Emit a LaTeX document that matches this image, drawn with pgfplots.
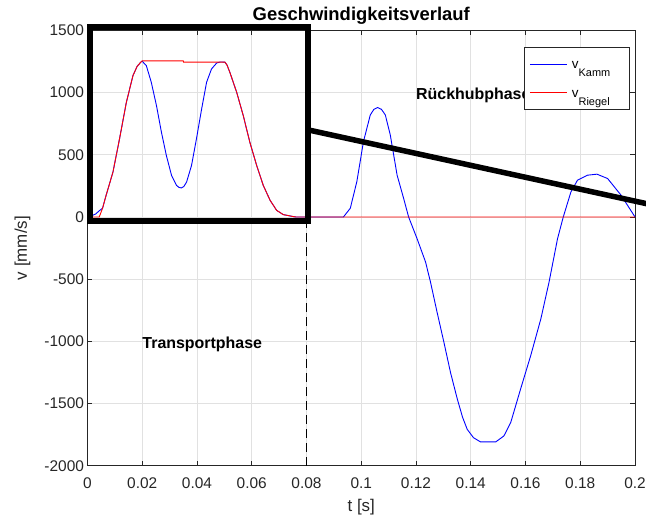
\documentclass[border=0pt]{standalone}
\usepackage{fontspec}
\setmainfont{Liberation Sans}
\usepackage{pgfplots}
\pgfplotsset{compat=1.18}
\definecolor{axgray}{HTML}{262626}
\definecolor{gridgray}{HTML}{E1E1E1}
\newcommand{\vsub}[1]{\raisebox{-3.5bp}{\makebox[57bp][l]{v\raisebox{-8bp}{\fontsize{11}{12}\selectfont #1}}}}

\begin{document}
\begin{tikzpicture}
\begin{axis}[
    scale only axis,
    width=547.5bp, height=435.3bp,
    xmin=0, xmax=0.2, ymin=-2000, ymax=1500,
    xtick={0,0.02,0.04,0.06,0.08,0.1,0.12,0.14,0.16,0.18,0.2},
    xticklabels={0,0.02,0.04,0.06,0.08,0.1,0.12,0.14,0.16,0.18,0.2},
    ytick={-2000,-1500,-1000,-500,0,500,1000,1500},
    yticklabels={-2000,-1500,-1000,-500,0,500,1000,1500},
    tick align=inside,
    major tick length=5bp,
    grid=major,
    grid style={gridgray, line width=0.8bp},
    axis line style={axgray, line width=0.8bp},
    tick style={axgray, line width=0.8bp},
    tick label style={font=\fontsize{15.5}{18}\selectfont, text=axgray},
    xticklabel style={yshift=-8bp},
    xlabel={t [s]},
    ylabel={v [mm/s]},
    xlabel style={at={(axis description cs:0.5,-0.096)}, anchor=center, font=\fontsize{17}{20}\selectfont, text=axgray},
    ylabel style={at={(axis description cs:-0.1187,0.5)}, anchor=center, font=\fontsize{17}{20}\selectfont, text=axgray},
    title={Geschwindigkeitsverlauf},
    title style={at={(axis description cs:0.5,1.0195)}, anchor=center, font=\bfseries\fontsize{18.5}{20}\selectfont},
    clip=false,
    legend style={at={(0.9896,0.961)}, anchor=north east, draw=axgray, line width=0.8bp,
      fill=white, font=\fontsize{13.5}{16}\selectfont, inner xsep=0bp, inner ysep=2bp,
      nodes={inner sep=0bp}, column sep=0bp, row sep=0bp},
    legend cell align=left,
    legend image code/.code={
      \draw[#1, line width=1bp] (0bp,0bp) -- (37bp,0bp);
      \path (-4.7bp,-13.85bp) (41.7bp,13.85bp);},
]
\coordinate (LL) at (rel axis cs:0,0);
\coordinate (UR) at (rel axis cs:1,1);

% v_Kamm
\addplot[blue, line width=0.9bp] coordinates {
(0,8)(0.0015,10)(0.0030,24)(0.0042,48)(0.0055,70)(0.0068,174)(0.0093,361)(0.0117,628)
(0.0142,922)(0.0166,1136)(0.0181,1210)(0.0196,1248)(0.0200,1252)
(0.0215,1216)(0.0233,1083)(0.0252,895)(0.0270,682)(0.0288,495)(0.0307,334)
(0.0325,254)(0.0334,238)(0.0343,233)(0.0352,245)(0.0362,281)(0.0380,414)
(0.0398,628)(0.0417,869)(0.0435,1083)(0.0453,1190)(0.0472,1238)(0.0485,1246)
(0.0502,1245)(0.0510,1220)(0.0520,1163)(0.0545,1002)(0.0569,815)(0.0593,601)
(0.0618,414)(0.0642,254)(0.0667,134)(0.0691,53)(0.0715,19)(0.0752,3)(0.0760,0)
(0.0935,0)(0.0960,70)(0.0984,285)(0.1008,605)(0.1033,820)(0.1046,865)(0.1060,880)
(0.1074,865)(0.1088,820)(0.1106,660)(0.1131,336)(0.1155,148)(0.1173,0)
(0.1204,-175)(0.1235,-363)(0.1253,-524)(0.1277,-766)(0.1302,-1008)(0.1326,-1250)
(0.1351,-1465)(0.1370,-1610)(0.1387,-1707)(0.1410,-1775)(0.1436,-1809)(0.1491,-1809)
(0.1521,-1761)(0.1546,-1653)(0.1582,-1384)(0.1619,-1115)(0.1656,-820)(0.1686,-524)
(0.1717,-175)(0.1738,0)(0.1766,202)(0.1790,296)(0.1827,336)(0.1861,344)(0.1900,309)
(0.1949,175)(0.2000,0)
};
\addlegendentry{\vsub{Kamm}}

% v_Riegel
\addplot[red, line width=0.9bp] coordinates {
(0,0)(0.0043,0)(0.0055,70)(0.0068,174)(0.0093,361)(0.0117,628)(0.0142,922)
(0.0166,1136)(0.0181,1210)(0.0196,1248)(0.0200,1255)(0.0350,1255)(0.0351,1245)
(0.0502,1245)(0.0510,1220)(0.0520,1163)(0.0545,1002)(0.0569,815)(0.0593,601)
(0.0618,414)(0.0642,254)(0.0667,134)(0.0691,53)(0.0715,19)(0.0752,3)(0.0760,0)
(0.2000,0)
};
\addlegendentry{\vsub{Riegel}}

% phase boundary
\addplot[black, line width=0.9bp, dash pattern=on 9bp off 5bp, forget plot] coordinates {(0.08,-2000)(0.08,0)};

\node[anchor=west, inner xsep=0bp, yshift=-3bp, font=\bfseries\fontsize{16}{18}\selectfont] at (axis cs:0.02,-1000) {Transportphase};
\node[anchor=west, inner xsep=0bp, yshift=-3bp, font=\bfseries\fontsize{16}{18}\selectfont] at (axis cs:0.12,1000) {Rückhubphase};

% zoom annotation
\draw[black, line width=6bp, line join=miter] (axis cs:0.0008,-32) rectangle (axis cs:0.0804,1526);
\draw[black, line width=5.5bp] (axis cs:0.0804,701) -- (axis cs:0.2044,106);
\end{axis}
\pgfresetboundingbox
\path[use as bounding box] ([shift={(-87.5bp,-55.3bp)}]LL) rectangle ([shift={(11bp,30.4bp)}]UR);
\end{tikzpicture}
\end{document}
